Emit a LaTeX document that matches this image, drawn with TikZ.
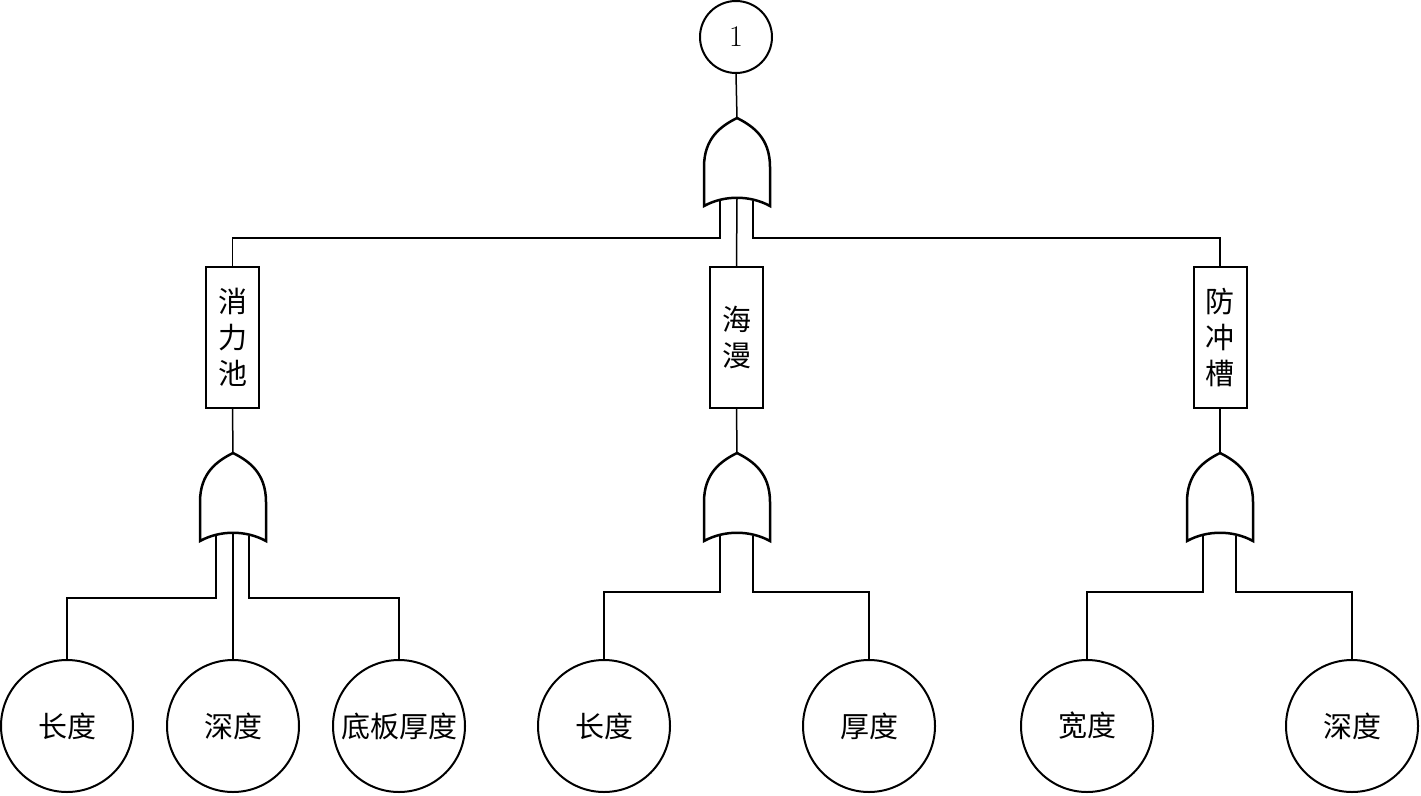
\documentclass[tikz,border=0pt]{standalone}
\usepackage{fontspec}
\newfontfamily\cjk{Noto Sans CJK SC}
\begin{document}
\begin{tikzpicture}[x=1pt,y=-1pt,
  conn/.style={line width=1.5pt},
  evt/.style={circle,draw,line width=2pt,minimum size=132pt,inner sep=0pt,font=\cjk\fontsize{29}{34}\selectfont},
  topevt/.style={circle,draw,line width=2pt,minimum size=72pt,inner sep=0pt,font=\fontsize{30}{34}\selectfont},
  midbox/.style={draw,line width=2pt,minimum width=53pt,minimum height=141pt,inner sep=0pt,align=center,font=\cjk\fontsize{29}{36}\selectfont},
  orgate/.pic={
    \draw[line width=2.5pt,line join=miter]
      (-33,88) -- (-33,49) .. controls (-33,20) and (-16,8) .. (0,0)
      .. controls (16,8) and (33,20) .. (33,49) -- (33,88)
      .. controls (13,77) and (-13,77) .. cycle;
    \coordinate (-tip) at (0,0);
    \coordinate (-l) at (-17,83);
    \coordinate (-m) at (0,80);
    \coordinate (-r) at (16,83);
  }]
\useasboundingbox (0,0) rectangle (1421,795);

\node[topevt] (top) at (736,37) {1};
\pic (g0) at (737,118) {orgate};
\draw[conn] (top.south) -- (g0-tip);

\node[midbox] (b1) at (232.5,337.5) {消\\力\\池};
\node[midbox] (b2) at (736.5,337.5) {海\\漫};
\node[midbox] (b3) at (1220,337.5) {防\\冲\\槽};

\draw[conn] (g0-l) -- (g0-l |- 0,238) -| (b1.north);
\draw[conn] (g0-m) -- (b2.north);
\draw[conn] (g0-r) -- (g0-r |- 0,238) -| (b3.north);

\pic (g1) at (233,453) {orgate};
\pic (g2) at (737,453) {orgate};
\pic (g3) at (1220,453) {orgate};
\draw[conn] (b1.south) -- (g1-tip);
\draw[conn] (b2.south) -- (g2-tip);
\draw[conn] (b3.south) -- (g3-tip);

\node[evt] (e1) at (67,726) {长度};
\node[evt] (e2) at (233,726) {深度};
\node[evt] (e3) at (399,726) {底板厚度};
\node[evt] (e4) at (604,726) {长度};
\node[evt] (e5) at (869,726) {厚度};
\node[evt] (e6) at (1087,726) {宽度};
\node[evt] (e7) at (1352,726) {深度};

\draw[conn] (g1-l) -- (g1-l |- 0,598) -| (e1.north);
\draw[conn] (g1-m) -- (e2.north);
\draw[conn] (g1-r) -- (g1-r |- 0,598) -| (e3.north);

\draw[conn] (g2-l) -- (g2-l |- 0,592) -| (e4.north);
\draw[conn] (g2-r) -- (g2-r |- 0,592) -| (e5.north);

\draw[conn] (g3-l) -- (g3-l |- 0,592) -| (e6.north);
\draw[conn] (g3-r) -- (g3-r |- 0,592) -| (e7.north);
\end{tikzpicture}
\end{document}
